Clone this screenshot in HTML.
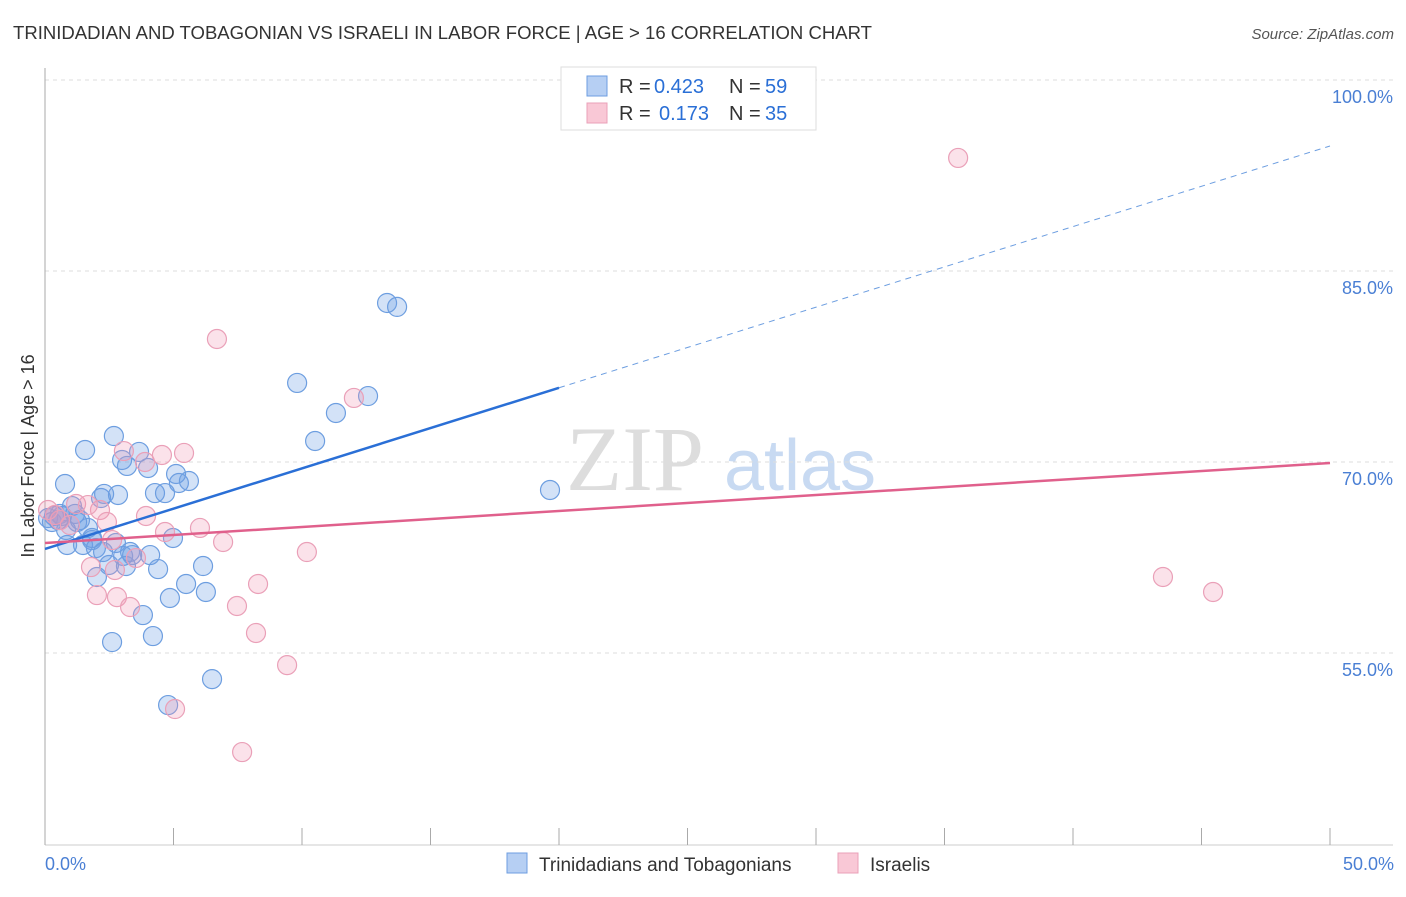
<!DOCTYPE html>
<html><head><meta charset="utf-8"><style>
body{margin:0;background:#fff;font-family:"Liberation Sans",sans-serif;}
</style></head><body>
<svg id="chart" width="1406" height="892" xmlns="http://www.w3.org/2000/svg" font-family="Liberation Sans, sans-serif">
<text x="13" y="39" font-size="18" fill="#333" textLength="859" lengthAdjust="spacingAndGlyphs">TRINIDADIAN AND TOBAGONIAN VS ISRAELI IN LABOR FORCE | AGE &gt; 16 CORRELATION CHART</text>
<text x="1394" y="39" font-size="15" fill="#555" text-anchor="end" font-style="italic">Source: ZipAtlas.com</text>
<g><text x="635" y="490" font-size="92" fill="#ddd" font-family="Liberation Serif, serif" text-anchor="middle">ZIP</text><text x="800" y="490" font-size="72" fill="#c8daf2" text-anchor="middle">atlas</text></g>
<g id="grid"></g><g id="axes"></g><g id="marks"></g>
<text transform="translate(34,456) rotate(-90)" font-size="18" fill="#333" text-anchor="middle">In Labor Force | Age &gt; 16</text>
<text x="45" y="870" font-size="18" fill="#4a7fd4">0.0%</text>
<text x="1394" y="870" font-size="18" fill="#4a7fd4" text-anchor="end">50.0%</text>
<g>
<rect x="561" y="67" width="255" height="63" fill="#fff" stroke="#ddd"/>
<rect x="587" y="76" width="20" height="20" fill="#b6cff3" stroke="#6d9ee0"/>
<rect x="587" y="103" width="20" height="20" fill="#f9c8d6" stroke="#eaa0b8"/>
<text x="619" y="93" font-size="20" fill="#333">R =</text>
<text x="654" y="93" font-size="20" fill="#2a6fd6">0.423</text>
<text x="729" y="93" font-size="20" fill="#333">N =</text>
<text x="765" y="93" font-size="20" fill="#2a6fd6">59</text>
<text x="619" y="120" font-size="20" fill="#333">R =</text>
<text x="659" y="120" font-size="20" fill="#2a6fd6">0.173</text>
<text x="729" y="120" font-size="20" fill="#333">N =</text>
<text x="765" y="120" font-size="20" fill="#2a6fd6">35</text>
</g>
<g>
<rect x="507" y="853" width="20" height="20" fill="#b6cff3" stroke="#6d9ee0"/>
<text x="539" y="871" font-size="19" fill="#333">Trinidadians and Tobagonians</text>
<rect x="838" y="853" width="20" height="20" fill="#f9c8d6" stroke="#eaa0b8"/>
<text x="870" y="871" font-size="19" fill="#333">Israelis</text>
</g>
</svg>
<script>
const yTicks=[100,85,70,55];
const yTickLabels=["100.0%","85.0%","70.0%","55.0%"];
const xTicks=[0,5,10,15,20,25,30,35,40,45,50];
const blueX=[2.68,1.56,3.66,3.00,3.19,4.01,0.78,5.10,5.21,5.60,2.18,2.84,2.30,4.28,4.67,1.05,1.17,1.25,1.36,0.35,0.58,0.12,0.86,1.48,1.83,1.98,2.76,2.26,3.31,3.04,4.09,2.49,3.15,4.40,4.98,2.02,3.81,4.86,5.49,6.15,6.26,2.61,4.20,6.50,4.79,9.81,10.51,11.32,12.57,13.31,13.70,19.65,0.51,1.67,0.82,0.66,0.27,1.83,3.39];
const blueY=[72.04,70.94,70.79,70.16,69.69,69.53,68.27,69.06,68.35,68.51,67.17,67.41,67.49,67.56,67.56,66.54,65.92,65.29,65.44,65.76,65.92,65.60,63.48,63.48,63.87,63.24,63.64,62.93,62.93,62.62,62.69,61.91,61.83,61.59,64.03,60.97,57.98,59.32,60.42,61.83,59.79,55.86,56.33,52.95,50.91,76.21,71.65,73.85,75.18,82.49,82.18,67.80,65.44,64.82,64.66,65.76,65.29,64.03,62.69];
const pinkX=[35.53,6.69,12.02,3.07,4.55,5.41,1.21,2.14,2.41,3.93,6.03,4.67,6.93,3.54,2.72,1.79,10.19,8.29,7.47,2.02,2.80,3.31,8.21,9.42,5.06,7.67,43.50,45.45,0.39,0.58,1.67,0.97,0.12,2.61,3.89];
const pinkY=[93.88,79.66,75.03,70.86,70.55,70.71,66.70,66.23,65.29,65.76,64.82,64.50,63.72,62.46,61.52,61.75,62.93,60.42,58.69,59.55,59.39,58.61,56.57,54.05,50.60,47.22,60.97,59.79,65.84,65.44,66.62,65.05,66.23,63.87,70.00];
const blueTrend=[63.17,94.82];
const pinkTrend=[63.64,69.92];
const blueSolidEnd=20;
const NS="http://www.w3.org/2000/svg";
const X=v=>45+v*25.7, Y=v=>462-(v-70)*12.733;
function mk(tag,attrs,parent){const e=document.createElementNS(NS,tag);for(const k in attrs)e.setAttribute(k,attrs[k]);document.getElementById(parent).appendChild(e);return e;}
yTicks.forEach((t,i)=>{
  const l=mk('line',{x1:45,x2:1393,y1:Y(t),y2:Y(t),stroke:'#ddd','stroke-dasharray':'4,4'},'grid');
  
  
  const tx=mk('text',{x:1393,y:Y(t)+23,'font-size':18,fill:'#4a7fd4','text-anchor':'end'},'grid');
  tx.textContent=yTickLabels[i];
  
  
});
const ax=mk('line',{x1:45,x2:45,y1:68,y2:845,stroke:'#aaa'},'axes');


const bx=mk('line',{x1:45,x2:1393,y1:845,y2:845,stroke:'#ccc'},'axes');


xTicks.forEach(t=>{
  const l=mk('line',{x1:X(t),x2:X(t),y1:828,y2:845,stroke:'#aaa'},'axes');
  
  
});
function pts(xs,ys,fill,stroke,name){
  xs.forEach((x,i)=>{
    const c=mk('circle',{cx:X(x),cy:Y(ys[i]),r:9.5,fill:fill,stroke:stroke,'stroke-width':1.2},'marks');
    
    
  });
}
pts(blueX,blueY,'rgba(110,160,230,0.3)','#6d9ee0','trinidadian-point');
pts(pinkX,pinkY,'rgba(240,150,180,0.28)','#eaa0b8','israeli-point');
const by=x=>blueTrend[0]+(blueTrend[1]-blueTrend[0])*x/50;
let l1=mk('line',{x1:X(0),y1:Y(by(0)),x2:X(blueSolidEnd),y2:Y(by(blueSolidEnd)),stroke:'#2a6fd6','stroke-width':2.5},'marks');


let l2=mk('line',{x1:X(blueSolidEnd),y1:Y(by(blueSolidEnd)),x2:X(50),y2:Y(by(50)),stroke:'#6d9ee0','stroke-width':1,'stroke-dasharray':'6,5'},'marks');


let l3=mk('line',{x1:X(0),y1:Y(pinkTrend[0]),x2:X(50),y2:Y(pinkTrend[1]),stroke:'#e0608c','stroke-width':2.5},'marks');


</script>
</body></html>
